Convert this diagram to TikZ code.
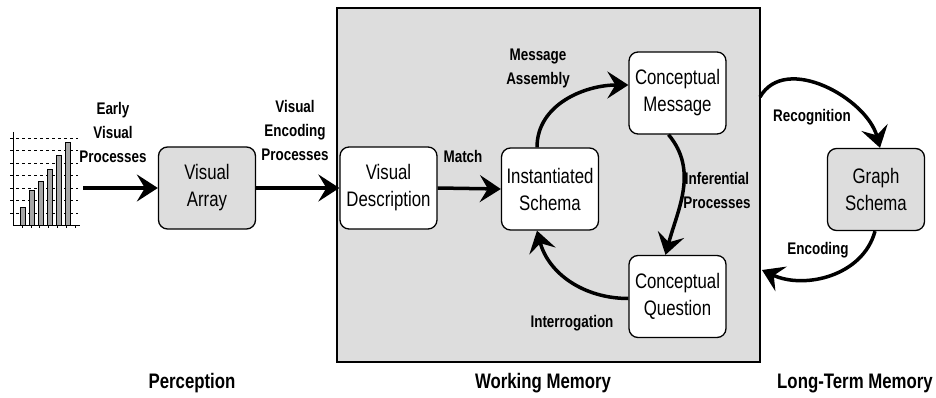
\documentclass[tikz,border=0pt]{standalone}
\usepackage{fontspec}
\setmainfont{Liberation Sans}[FakeStretch=0.8]
\usetikzlibrary{positioning,arrows.meta,calc}

\begin{document}
\begin{tikzpicture}[x=1pt,y=-1pt,
  box/.style={draw,line width=1.3pt,rounded corners=9pt,fill=white,minimum width=97pt,minimum height=82pt,align=center,font=\fontsize{21}{27}\selectfont},
  graybox/.style={box,fill=gray!27},
  flow/.style={line width=3.5pt,-{Stealth[length=21pt,width=27pt,inset=8pt]}},
  lbl/.style={align=center,font=\bfseries\fontsize{16.8}{24}\selectfont},
  region/.style={font=\bfseries\fontsize{21}{25}\selectfont}]

\useasboundingbox (0,0) rectangle (936,398);

% working memory area
\node[draw,line width=1.2pt,fill=gray!27,minimum width=423pt,minimum height=354pt] (wm) at (548.5,185) {};

% the little bar chart
\foreach \g in {138,150.5,163,175.5,188,200.5,213}
    \draw[dashed,line width=0.6pt] (10,\g) -- (78,\g);
\draw[line width=1pt] (13,132) -- (13,225) -- (80,225);
\foreach \t in {22,31,39,48,57,66,75}
    \draw[line width=0.8pt] (\t,225) -- (\t,228);
\foreach \x/\top in {23/207, 32/190, 41/181, 50/169, 59/155, 68/142}
    \draw[fill=gray!70,line width=0.8pt] (\x-2.3,225) rectangle (\x+2.3,\top);
\coordinate (chart) at (83,188);

% boxes
\node[graybox] (VA) at (207,188) {Visual\\Array};
\node[box] (VD) at (388.5,188) {Visual\\Description};
\node[box] (IS) at (550,189) {Instantiated\\Schema};
\node[box] (CM) at (677.5,93) {Conceptual\\Message};
\node[box] (CQ) at (677.5,296.5) {Conceptual\\Question};
\node[graybox] (GS) at (876,189.5) {Graph\\Schema};

\coordinate (recog) at (760,97);
\coordinate (enc) at (762,270);

% connectors
\draw[flow] (chart) -- (VA.west);
\draw[flow] (VA.east) -- (VD.west);
\draw[flow] (VD.east) -- (IS.west);
\draw[flow] ($(IS.north)+(-13,0)$) to[out=90,in=180] ($(CM.west)+(0,-8)$);
\draw[flow] ($(CM.south)+(-9,0)$) to[out=-50,in=75] ($(CQ.north)+(-12,0)$);
\draw[flow] ($(CQ.west)+(0,2)$) to[out=180,in=-75] ($(IS.south)+(-13,0)$);
\draw[flow] (recog) to[out=60,in=105] ($(GS.north)+(4,0)$);
\draw[flow] ($(GS.south)+(-1,0)$) to[out=-105,in=-25] (enc);

% labels
\node[lbl] (early) at (113,132) {Early\\Visual\\Processes};
\node[lbl] (vep) at (295,130) {Visual\\Encoding\\Processes};
\node[lbl] (match) at (463,156) {Match};
\node[lbl] (assembly) at (538,68) {Message\\Assembly};
\node[lbl] (infer) at (717,190) {Inferential\\Processes};
\node[lbl] (interr) at (572,323) {Interrogation};
\node[lbl] (recogl) at (812,117) {Recognition};
\node[lbl] (encl) at (818,250) {Encoding};

\node[region] (perc) at (192,383) {Perception};
\node[region] (work) at (543,383) {Working Memory};
\node[region] (ltm) at (855,383) {Long-Term Memory};

\end{tikzpicture}
\end{document}
